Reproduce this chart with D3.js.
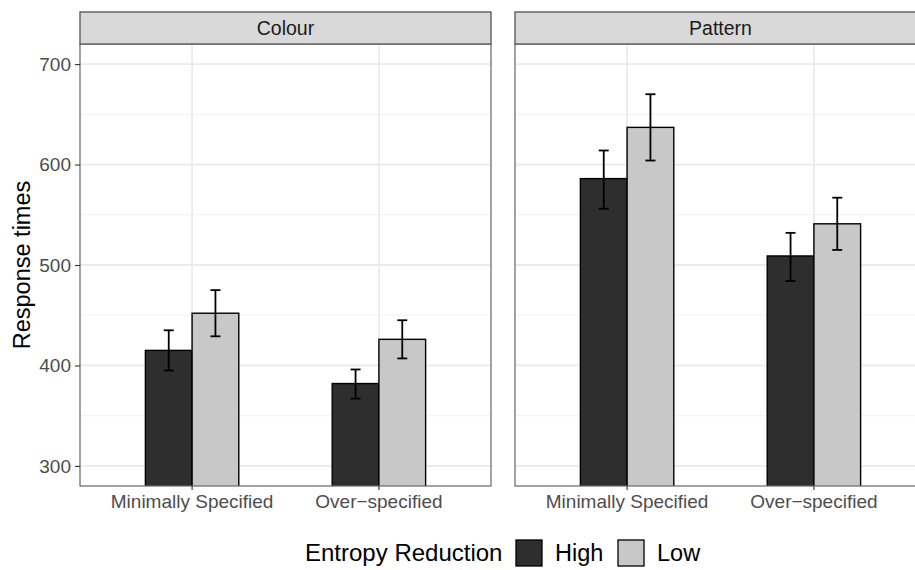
<!DOCTYPE html>
<html>
<head>
<meta charset="utf-8">
<script src="https://cdn.jsdelivr.net/npm/d3@7"></script>
<style>
  body { margin: 0; background: #fff; }
  svg { display: block; font-family: "Liberation Sans", Arial, Helvetica, sans-serif; }
</style>
</head>
<body>
<div id="chart"></div>
<script>
// data, order: Colour/Minimally, Colour/Over, Pattern/Minimally, Pattern/Over
const facets = ["Colour", "Pattern"];
const specs = ["Minimally Specified", "Over-specified"];
const groups = ["High", "Low"];
const meanHigh  = [415, 382, 586, 509];
const lowerHigh = [395, 367, 556, 484];
const upperHigh = [435, 396, 614, 532];
const meanLow   = [452, 426, 637, 541];
const lowerLow  = [429, 407, 604, 515];
const upperLow  = [475, 445, 670, 567];
const yTicks = [300, 400, 500, 600, 700];
const yMinor = [350, 450, 550, 650];

const fills = { High: "#2e2e2e", Low: "#c8c8c8" };

const W = 915, H = 570;
const panelTop = 44, panelBottom = 486, stripTop = 12;
const panelX = [80, 515], panelW = 411;

const rows = [];
facets.forEach((f, fi) => specs.forEach((s, si) => {
  const k = fi * 2 + si;
  rows.push({ facet: f, spec: s, group: "High", mean: meanHigh[k], lo: lowerHigh[k], hi: upperHigh[k] });
  rows.push({ facet: f, spec: s, group: "Low", mean: meanLow[k], lo: lowerLow[k], hi: upperLow[k] });
}));

const svg = d3.select("#chart").append("svg")
  .attr("width", W).attr("height", H);

const y = d3.scaleLinear().domain([280, 720]).range([panelBottom, panelTop]);

facets.forEach((f, fi) => {
  const x0 = panelX[fi];
  const x = d3.scaleBand().domain(specs).range([x0, x0 + panelW]).paddingInner(0).paddingOuter(0.1);
  const step = x.step();
  const xg = d3.scaleBand().domain(groups).range([-0.25 * step, 0.25 * step]);

  const g = svg.append("g");
  const clipId = "clip" + fi;
  g.append("clipPath").attr("id", clipId)
    .append("rect").attr("x", x0).attr("y", panelTop).attr("width", panelW).attr("height", panelBottom - panelTop);

  // grid
  g.selectAll(".minor").data(yMinor).enter().append("line")
    .attr("x1", x0).attr("x2", x0 + panelW)
    .attr("y1", d => y(d)).attr("y2", d => y(d))
    .attr("stroke", "#f1f1f1").attr("stroke-width", 1);
  g.selectAll(".major").data(yTicks).enter().append("line")
    .attr("x1", x0).attr("x2", x0 + panelW)
    .attr("y1", d => y(d)).attr("y2", d => y(d))
    .attr("stroke", "#ebebeb").attr("stroke-width", 1.8);
  g.selectAll(".vmajor").data(specs).enter().append("line")
    .attr("x1", d => x(d) + step / 2).attr("x2", d => x(d) + step / 2)
    .attr("y1", panelTop).attr("y2", panelBottom)
    .attr("stroke", "#ebebeb").attr("stroke-width", 1.8);

  const data = rows.filter(r => r.facet === f);
  const body = g.append("g").attr("clip-path", `url(#${clipId})`);

  body.selectAll("rect.bar").data(data).enter().append("rect")
    .attr("class", "bar")
    .attr("x", d => x(d.spec) + step / 2 + xg(d.group))
    .attr("width", xg.bandwidth())
    .attr("y", d => y(d.mean))
    .attr("height", d => y(250) - y(d.mean))
    .attr("fill", d => fills[d.group])
    .attr("stroke", "#000").attr("stroke-width", 1.4);

  const cx = d => x(d.spec) + step / 2 + xg(d.group) + xg.bandwidth() / 2;
  const eb = body.selectAll("g.err").data(data).enter().append("g")
    .attr("stroke", "#000").attr("stroke-width", 1.8);
  eb.append("line").attr("x1", cx).attr("x2", cx).attr("y1", d => y(d.lo)).attr("y2", d => y(d.hi));
  eb.append("line").attr("x1", d => cx(d) - 5).attr("x2", d => cx(d) + 5).attr("y1", d => y(d.lo)).attr("y2", d => y(d.lo));
  eb.append("line").attr("x1", d => cx(d) - 5).attr("x2", d => cx(d) + 5).attr("y1", d => y(d.hi)).attr("y2", d => y(d.hi));

  // panel border
  g.append("rect").attr("x", x0).attr("y", panelTop).attr("width", panelW).attr("height", panelBottom - panelTop)
    .attr("fill", "none").attr("stroke", "#666").attr("stroke-width", 1.2);

  // strip
  g.append("rect").attr("x", x0).attr("y", stripTop).attr("width", panelW).attr("height", panelTop - stripTop)
    .attr("fill", "#d9d9d9").attr("stroke", "#5e5e5e").attr("stroke-width", 1.4);
  g.append("text").attr("x", x0 + panelW / 2).attr("y", 35)
    .attr("text-anchor", "middle").attr("font-size", 19.5).attr("fill", "#1a1a1a").text(f);

  // x axis
  const xAxis = g.append("g").attr("transform", `translate(0,${panelBottom})`)
    .call(d3.axisBottom(x).tickSize(4).tickPadding(5).tickFormat(d => d.replace("-", "\u2212")));
  xAxis.select(".domain").remove();
  xAxis.selectAll("line").attr("stroke", "#333").attr("stroke-width", 1.1);
  xAxis.selectAll("text").attr("font-size", 19).attr("fill", "#4d4d4d")
    .attr("font-family", "Liberation Sans, Arial, sans-serif");

  if (fi === 0) {
    const yAxis = g.append("g").attr("transform", `translate(${x0},0)`)
      .call(d3.axisLeft(y).tickValues(yTicks).tickSize(5).tickPadding(4));
    yAxis.select(".domain").remove();
    yAxis.selectAll("line").attr("stroke", "#333").attr("stroke-width", 1.1);
    yAxis.selectAll("text").attr("font-size", 19).attr("fill", "#4d4d4d")
      .attr("font-family", "Liberation Sans, Arial, sans-serif");
  }
});

// y title
svg.append("text")
  .attr("transform", `translate(30,${(panelTop + panelBottom) / 2}) rotate(-90)`)
  .attr("text-anchor", "middle").attr("font-size", 23.5).attr("fill", "#000")
  .text("Response times");

// legend
const leg = svg.append("g");
leg.append("text").attr("x", 305).attr("y", 561).attr("font-size", 24).attr("fill", "#000").text("Entropy Reduction");
const keyX = { High: 516, Low: 618 };
groups.forEach(gname => {
  leg.append("rect").attr("x", keyX[gname]).attr("y", 540).attr("width", 26).attr("height", 26)
    .attr("fill", fills[gname]).attr("stroke", "#000").attr("stroke-width", 1.3);
  leg.append("text").attr("x", keyX[gname] + 39).attr("y", 561).attr("font-size", 23.5).attr("fill", "#000").text(gname);
});
</script>
</body>
</html>
